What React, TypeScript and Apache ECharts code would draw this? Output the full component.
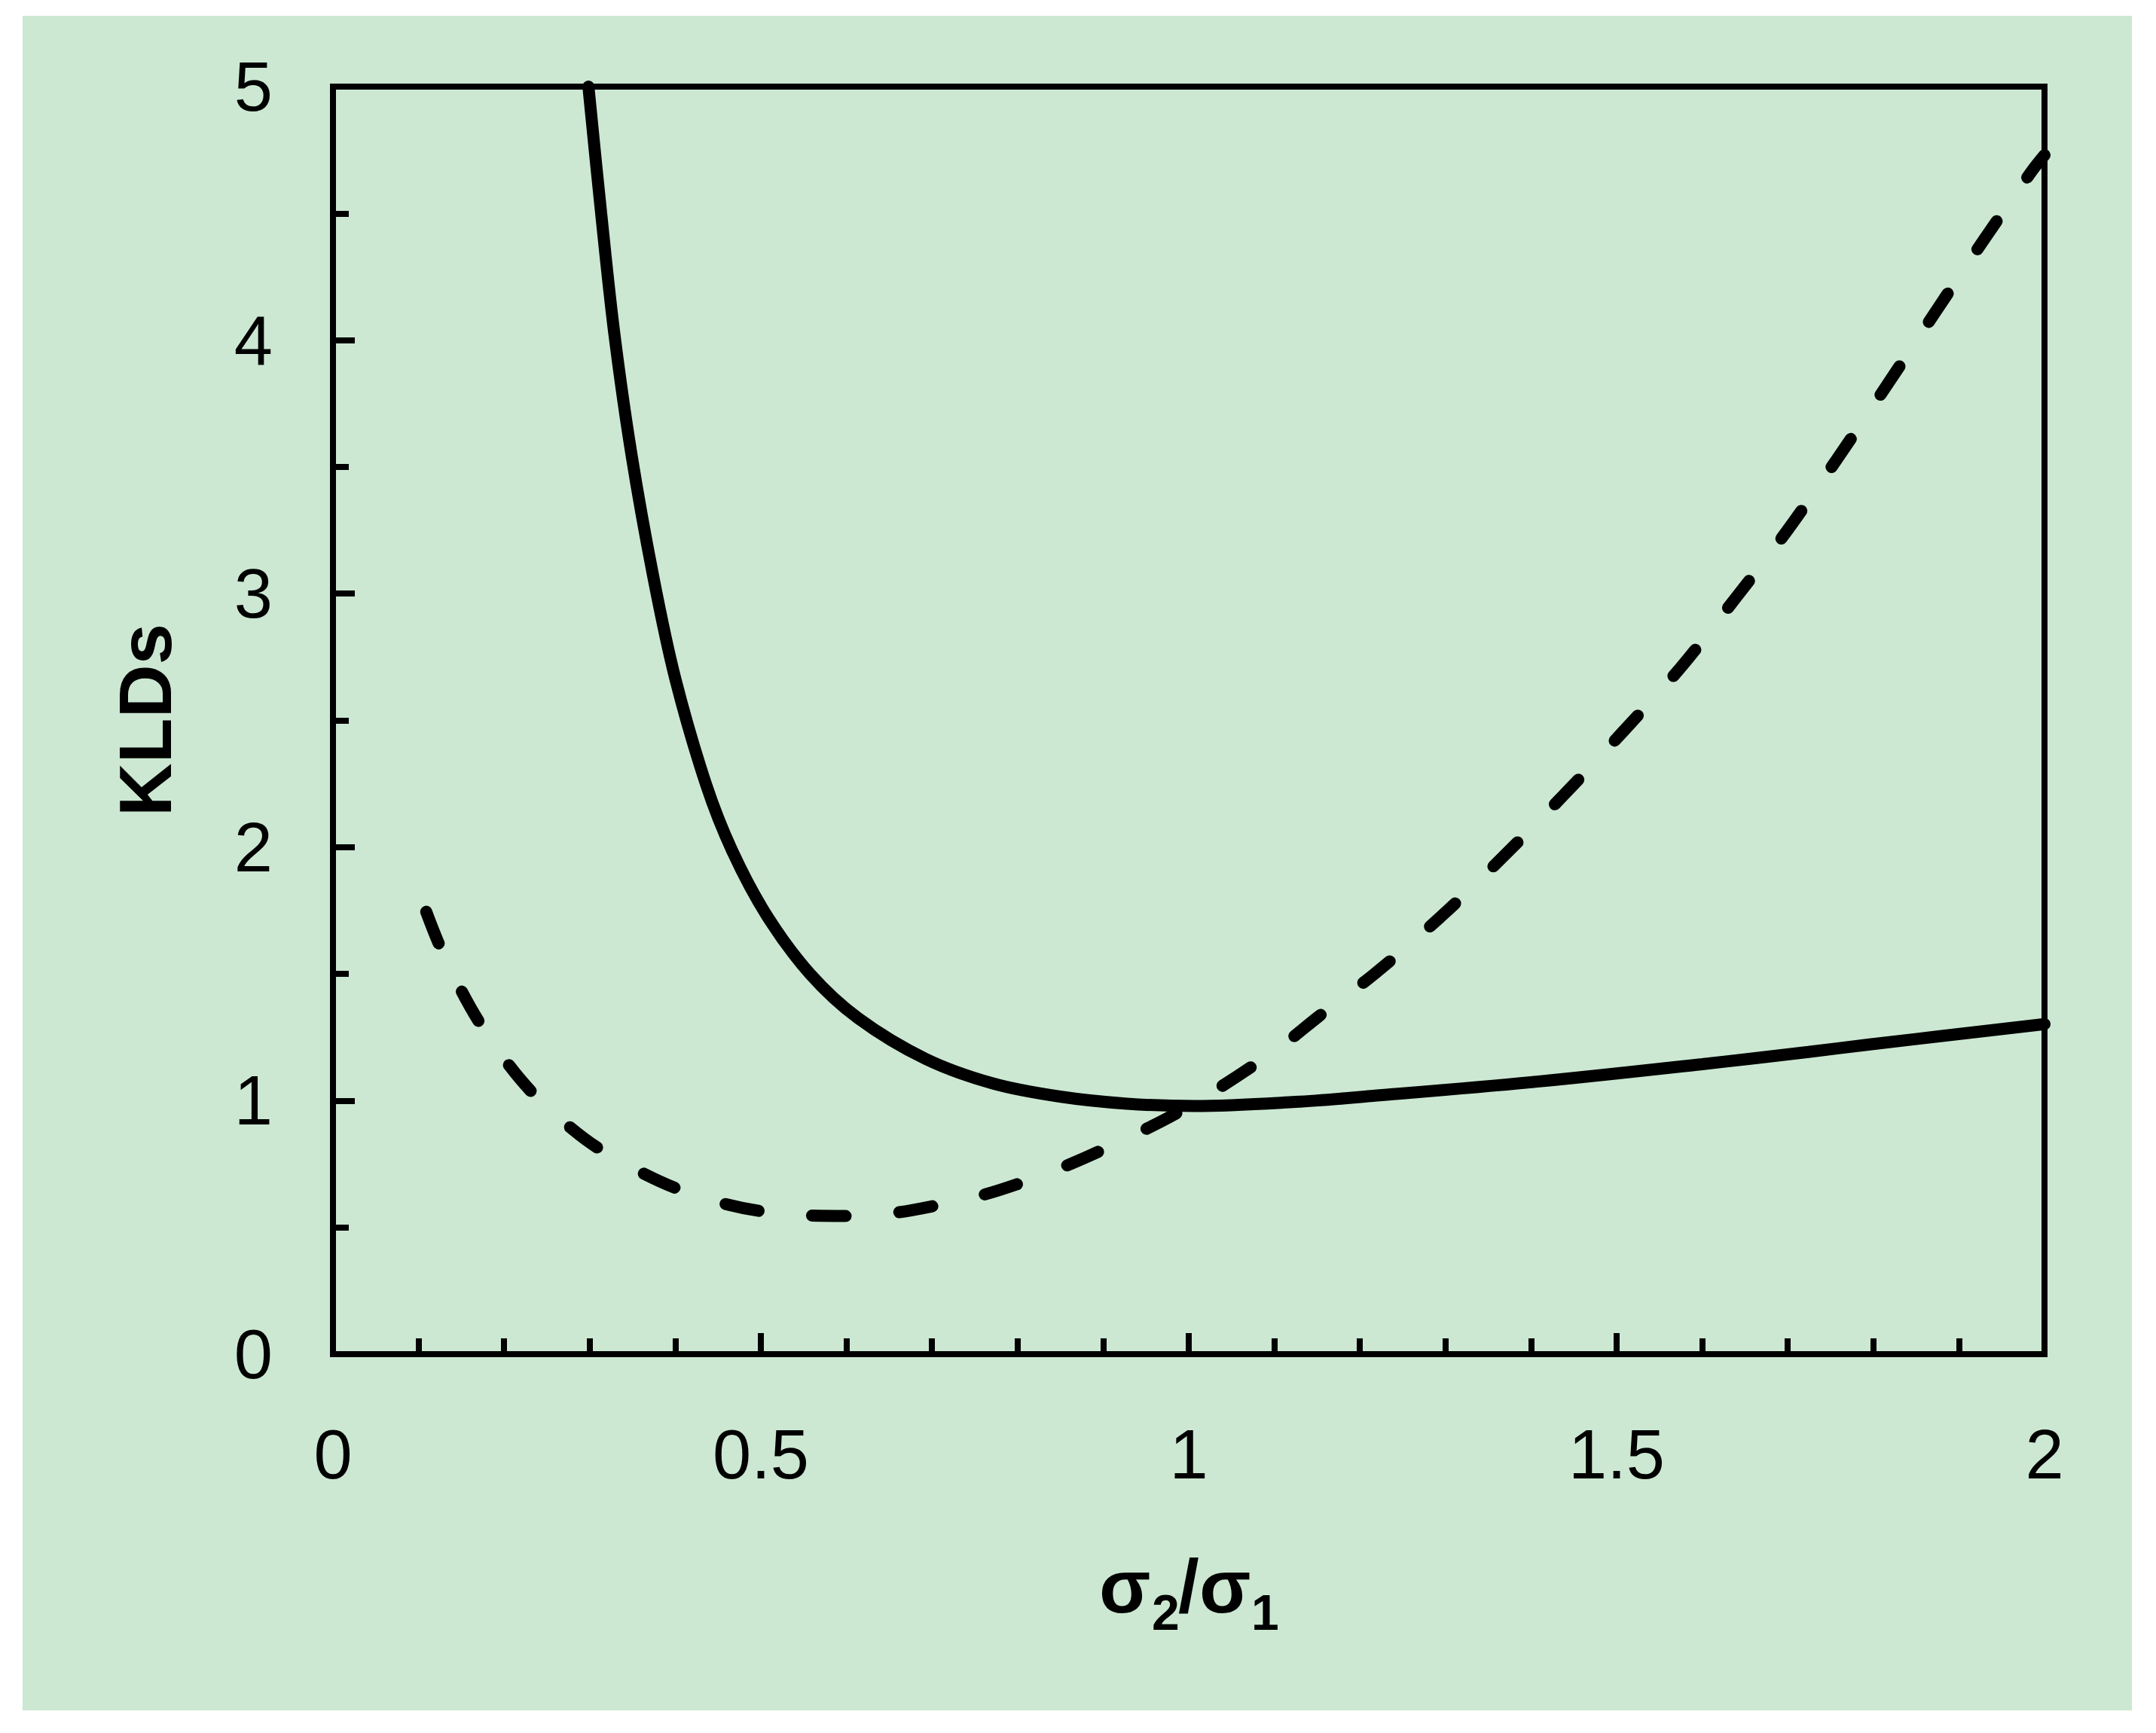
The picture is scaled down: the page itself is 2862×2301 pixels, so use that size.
import React, { useEffect, useRef } from "react";
import * as echarts from "echarts";

const W = 2862;
const H = 2301;

// Solid curve
const solidX = [0.2985, 0.3134, 0.3288, 0.349, 0.3747, 0.4, 0.4362, 0.4666, 0.507, 0.5575, 0.6138, 0.6924, 0.771, 0.8495, 0.928, 1.0068, 1.1247, 1.213, 1.407, 1.6, 1.724, 1.794, 2.0];
const solidY = [5.0, 4.5, 4.025, 3.545, 3.06, 2.665, 2.245, 1.985, 1.73, 1.5, 1.325, 1.165, 1.068, 1.016, 0.988, 0.979, 0.995, 1.018, 1.075, 1.144, 1.192, 1.221, 1.302];

// Dashed curve
const dashedX = [0.109, 0.125, 0.15, 0.172, 0.203, 0.234, 0.275, 0.312, 0.358, 0.402, 0.452, 0.502, 0.554, 0.605, 0.655, 0.704, 0.756, 0.799, 0.85, 0.894, 0.944, 0.987, 1.032, 1.074, 1.117, 1.151, 1.217, 1.294, 1.367, 1.438, 1.507, 1.575, 1.638, 1.699, 1.757, 1.815, 1.871, 1.93, 1.985, 2.0];
const dashedY = [1.745, 1.609, 1.434, 1.304, 1.152, 1.028, 0.901, 0.808, 0.721, 0.653, 0.598, 0.563, 0.547, 0.545, 0.557, 0.586, 0.625, 0.67, 0.734, 0.798, 0.878, 0.953, 1.043, 1.135, 1.238, 1.33, 1.5, 1.724, 1.961, 2.205, 2.454, 2.709, 2.978, 3.247, 3.528, 3.818, 4.103, 4.4, 4.666, 4.73];

const xTickLabels = ["0", "0.5", "1", "1.5", "2"];
const yTickLabels = ["0", "1", "2", "3", "4", "5"];
const yTitle = "KLDs";
const xTitleParts = ["σ", "2", "/", "σ", "1"];

const FONT = '"Liberation Sans", Arial, sans-serif';

export default function App() {
  const ref = useRef<HTMLDivElement>(null);

  useEffect(() => {
    if (!ref.current) return;
    const chart = echarts.init(ref.current, null, { renderer: "svg", width: W, height: H });

    const ctx = document.createElement("canvas").getContext("2d") as CanvasRenderingContext2D;
    const inkLeft = (t: string, fs: number) => {
      ctx.font = `bold ${fs}px "Liberation Sans"`;
      return ctx.measureText(t).actualBoundingBoxLeft;
    };

    const glyphLayout = [
      { left: 1462, base: 2141, fs: 100 },
      { left: 1531, base: 2164, fs: 66 },
      { left: 1564, base: 2141, fs: 100 },
      { left: 1595, base: 2141, fs: 100 },
      { left: 1665, base: 2164, fs: 66 },
    ];
    const titleEls = xTitleParts.map((t, i) => {
      const g = glyphLayout[i];
      return {
        type: "text",
        x: g.left + inkLeft(t, g.fs),
        y: g.base - 0.3465 * g.fs,
        silent: true,
        z: 10,
        style: {
          text: t,
          fontSize: g.fs,
          fontWeight: "bold",
          fontFamily: FONT,
          fill: "#000",
          align: "left",
          verticalAlign: "middle",
        },
      };
    });

    const solid = solidX.map((x, i) => [x, solidY[i]]);
    const dashed = dashedX.map((x, i) => [x, dashedY[i]]);

    chart.setOption({
      animation: false,
      backgroundColor: "#ffffff",
      graphic: {
        elements: [
          {
            type: "rect",
            z: -10,
            silent: true,
            shape: { x: 30, y: 21, width: 2800, height: 2250 },
            style: { fill: "#cce8d2" },
          },
          {
            type: "text",
            x: 193,
            y: 956,
            rotation: Math.PI / 2,
            silent: true,
            z: 10,
            style: {
              text: yTitle,
              fontSize: 98,
              fontWeight: "bold",
              fontFamily: FONT,
              fill: "#000",
              align: "center",
              verticalAlign: "middle",
            },
          },
          ...titleEls,
        ],
      },
      grid: {
        left: 442,
        top: 115,
        width: 2272,
        height: 1683,
        show: true,
        borderColor: "#000",
        borderWidth: 8,
        backgroundColor: "transparent",
      },
      xAxis: {
        type: "value",
        min: 0,
        max: 2,
        interval: 0.5,
        splitLine: { show: false },
        axisLine: { show: true, onZero: false, lineStyle: { color: "#000", width: 8 } },
        axisTick: { show: true, inside: true, length: 28, lineStyle: { color: "#000", width: 8 } },
        minorTick: { show: true, splitNumber: 5, length: 21, lineStyle: { color: "#000", width: 8 } },
        minorSplitLine: { show: false },
        axisLabel: {
          fontSize: 92,
          color: "#000",
          fontFamily: FONT,
          margin: 87,
          formatter: (v: number) => xTickLabels[Math.round(v / 0.5)] ?? String(v),
        },
      },
      yAxis: {
        type: "value",
        min: 0,
        max: 5,
        interval: 1,
        splitLine: { show: false },
        axisLine: { show: true, onZero: false, lineStyle: { color: "#000", width: 8 } },
        axisTick: { show: true, inside: true, length: 29, lineStyle: { color: "#000", width: 8 } },
        minorTick: { show: true, splitNumber: 2, length: 21, lineStyle: { color: "#000", width: 8 } },
        minorSplitLine: { show: false },
        axisLabel: {
          fontSize: 92,
          color: "#000",
          fontFamily: FONT,
          margin: 80,
          formatter: (v: number) => yTickLabels[Math.round(v)] ?? String(v),
        },
      },
      series: [
        {
          type: "line",
          data: solid,
          showSymbol: false,
          symbol: "none",
          smooth: 0.35,
          clip: true,
          z: 3,
          lineStyle: { color: "#000", width: 16, cap: "round" },
        },
        {
          type: "line",
          data: dashed,
          showSymbol: false,
          symbol: "none",
          smooth: 0.35,
          clip: true,
          z: 3,
          lineStyle: { color: "#000", width: 16, type: [45, 71], cap: "round" },
        },
      ],
    });

    return () => {
      chart.dispose();
    };
  }, []);

  return (
    <div
      ref={ref}
      style={{ position: "absolute", left: 0, top: 0, width: W, height: H, background: "#fff" }}
    />
  );
}
